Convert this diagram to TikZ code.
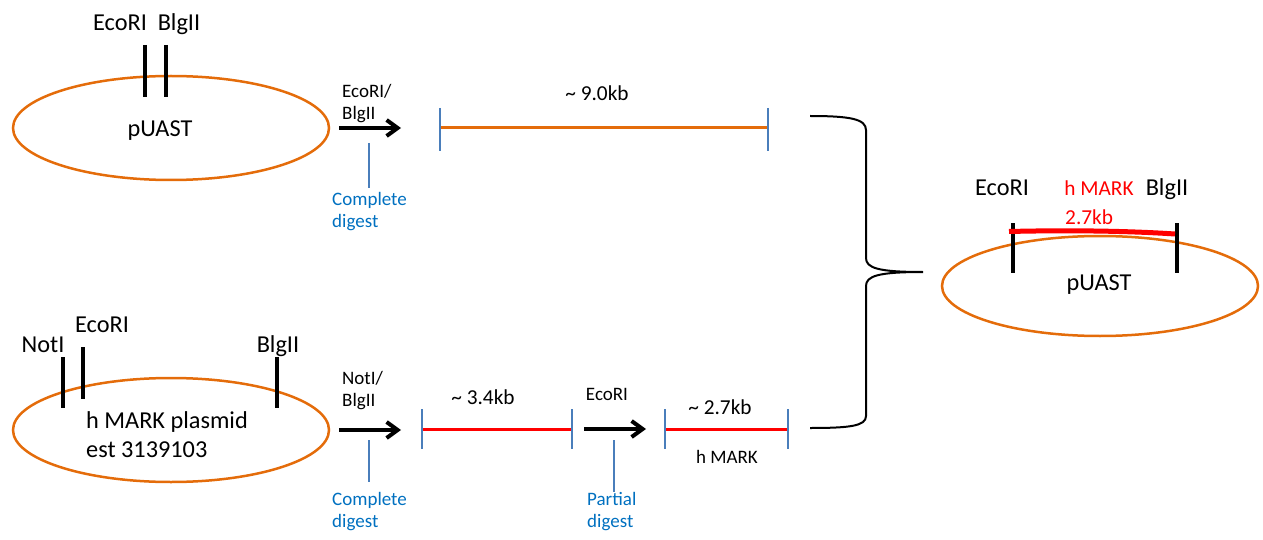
\documentclass[tikz,border=0pt]{standalone}
\usepackage{fontspec}
\setmainfont{Carlito}
\usetikzlibrary{shapes.geometric,arrows.meta}
\definecolor{plorange}{HTML}{E46C0A}
\definecolor{tickblue}{HTML}{4A7EBB}
\definecolor{txtblue}{HTML}{0070C0}
\definecolor{fragred}{HTML}{FF0000}
\begin{document}
\begin{tikzpicture}[x=1pt,y=-1pt,
  plasmid/.style={ellipse, draw=plorange, line width=2.5pt, minimum width=316pt, minimum height=104pt, inner sep=0pt},
  cutsite/.style={line width=4.2pt, black},
  big/.style={font=\fontsize{24.3}{29}\selectfont, inner sep=0pt},
  mid/.style={font=\fontsize{21.3}{25}\selectfont, inner sep=0pt},
  small/.style={font=\fontsize{19}{22}\selectfont, inner sep=0pt, align=left},
  bluetxt/.style={small, text=txtblue},
  digarrow/.style={line width=4pt, black, -{Straight Barb[length=11pt,width=16pt]}},
  fragline/.style={line width=3pt},
  tick/.style={line width=1.3pt, tickblue},
  pointer/.style={line width=1.2pt, tickblue},
  bracestyle/.style={line width=2pt, black}
]
\useasboundingbox (0,0) rectangle (1263,540);

% ---------- top plasmid ----------
\node[plasmid] (puast) at (171,128) {};
\node[big, anchor=base] (puastlbl) at (160,137) {pUAST};
\coordinate (c1t) at (145,45); \coordinate (c1b) at (145,97);
\coordinate (c2t) at (166,45); \coordinate (c2b) at (166,97);
\draw[cutsite] (c1t) -- (c1b);
\draw[cutsite] (c2t) -- (c2b);
\node[big, anchor=base] (t-eco) at (120,31) {EcoRI};
\node[big, anchor=base] (t-blg) at (179,31) {BlgII};

% arrow 1
\coordinate (a1s) at (339,128); \coordinate (a1e) at (401,128);
\draw[digarrow] (a1s) -- (a1e);
\node[small, anchor=north west] (a1lbl) at (342,84) {EcoRI/\\BlgII};
\node[bluetxt, anchor=north west] (d1) at (332,192) {Complete\\digest};
\coordinate (p1t) at (369,143); \coordinate (p1b) at (369,188);
\draw[pointer] (p1t) -- (p1b);

% top fragment
\coordinate (f1l) at (440,128); \coordinate (f1r) at (768,128);
\draw[fragline, plorange] (f1l) -- (f1r);
\draw[tick] (440,108) -- (440,151);
\draw[tick] (768,108) -- (768,151);
\node[mid, anchor=base] (f1lbl) at (597,101) {\textasciitilde\ 9.0kb};

% ---------- bottom plasmid ----------
\node[plasmid] (hmark) at (171,430) {};
\node[big, anchor=base west] (hm1) at (86,428) {h MARK plasmid};
\node[big, anchor=base west] (hm2) at (86,457) {est 3139103};
\draw[cutsite] (63,357) -- (63,408);
\draw[cutsite] (83,347) -- (83,399);
\draw[cutsite] (277,357) -- (277,408);
\node[big, anchor=base] (b-not) at (43,352) {NotI};
\node[big, anchor=base] (b-eco) at (102,332) {EcoRI};
\node[big, anchor=base] (b-blg) at (278,352) {BlgII};

% arrow 2
\coordinate (a2s) at (339,430); \coordinate (a2e) at (401,430);
\draw[digarrow] (a2s) -- (a2e);
\node[small, anchor=north west] (a2lbl) at (342,371) {NotI/\\BlgII};
\node[bluetxt, anchor=north west] (d2) at (332,492) {Complete\\digest};
\draw[pointer] (369,440) -- (369,482);

% fragment 3.4kb
\coordinate (f2l) at (422,429); \coordinate (f2r) at (572,429);
\draw[fragline, fragred] (f2l) -- (f2r);
\draw[tick] (422,409) -- (422,449);
\draw[tick] (572,409) -- (572,449);
\node[mid, anchor=base] (f2lbl) at (483,404) {\textasciitilde\ 3.4kb};

% arrow 3
\coordinate (a3s) at (584,429); \coordinate (a3e) at (646,429);
\draw[digarrow] (a3s) -- (a3e);
\node[small, anchor=base] (a3lbl) at (607,400) {EcoRI};
\node[bluetxt, anchor=north west] (d3) at (587,492) {Partial\\digest};
\draw[pointer] (614,440) -- (614,492);

% fragment 2.7kb
\coordinate (f3l) at (665,429); \coordinate (f3r) at (788,429);
\draw[fragline, fragred] (f3l) -- (f3r);
\draw[tick] (665,409) -- (665,449);
\draw[tick] (788,409) -- (788,449);
\node[mid, anchor=base] (f3lbl) at (720,414) {\textasciitilde\ 2.7kb};
\node[small, anchor=base] (f3name) at (727,463) {h MARK};

% ---------- brace ----------
\coordinate (br-top) at (810,116);
\coordinate (br-tip) at (923,272);
\coordinate (br-bot) at (810,428);
\draw[bracestyle] (br-top) .. controls (850,116) and (866,119) .. (866,130)
  -- (866,258) .. controls (866,268) and (878,272) .. (br-tip)
  .. controls (878,272) and (866,276) .. (866,286)
  -- (866,416) .. controls (866,426) and (850,428) .. (br-bot);

% ---------- result plasmid ----------
\node[plasmid, minimum height=100pt] (result) at (1100,286) {};
\node[big, anchor=base] (r-lbl) at (1099,290) {pUAST};
\draw[cutsite] (1013,223) -- (1013,273);
\draw[cutsite] (1177,223) -- (1177,273);
\coordinate (ins-l) at (1009,231.5);
\coordinate (ins-r) at (1175,234);
\draw[line width=5pt, fragred] (ins-l) .. controls (1070,230) and (1130,231) .. (ins-r);
\node[big, anchor=base] (r-eco) at (1002,196) {EcoRI};
\node[big, anchor=base] (r-blg) at (1167,196) {BlgII};
\node[mid, anchor=base, text=fragred] (r-hm) at (1099,196) {h MARK};
\node[mid, anchor=base west, text=fragred] (r-kb) at (1065,225) {2.7kb};
\end{tikzpicture}
\end{document}
